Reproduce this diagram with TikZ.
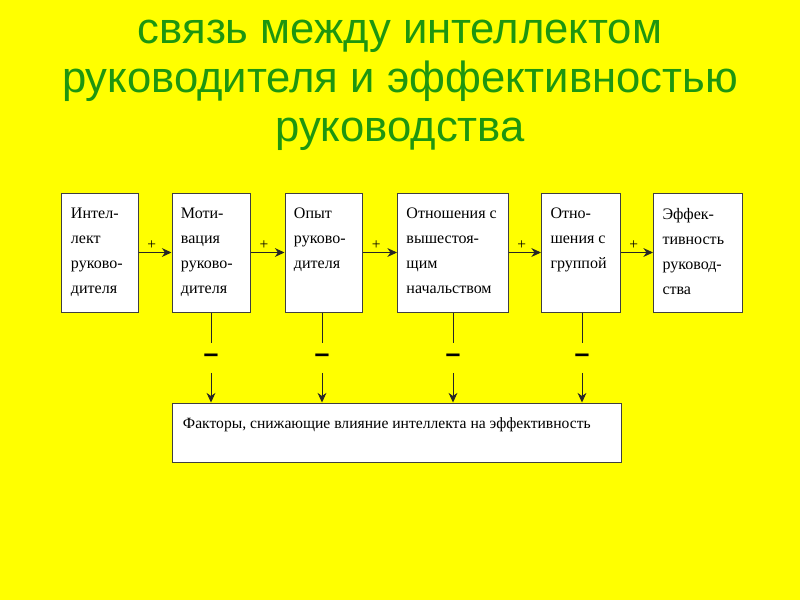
\documentclass[tikz,border=0pt]{standalone}
\usepackage{fontspec}
\setmainfont{Liberation Serif}
\newfontfamily\titlefont{Liberation Sans}
\usepackage{tikz}
\usetikzlibrary{arrows.meta}
\definecolor{titlegreen}{RGB}{30,150,15}
\definecolor{slideyellow}{RGB}{255,255,0}
% text block sitting at the top of a box
\newcommand{\boxtext}[3]{\parbox[c][#2][t]{#1}{\vspace{0.375cm}\raggedright #3}}

\begin{document}
\begin{tikzpicture}[x=0.025cm, y=-0.025cm, >={Stealth[length=2.4mm,width=2.2mm]},
    stage/.style={draw=black!75, fill=white, line width=0.7pt, inner sep=0pt,
        minimum height=2.975cm, font=\fontsize{11.4}{17.8}\selectfont},
    link/.style={draw=black!85, line width=0.6pt},
    plus/.style={above=1pt, pos=0.4, inner sep=1pt, font=\fontsize{11}{12}\selectfont},
    minus/.style={inner sep=0pt, minimum height=0.725cm,
        font=\titlefont\bfseries\fontsize{19}{20}\selectfont},
    title/.style={align=center, text=titlegreen,
        font=\titlefont\fontsize{31}{34.9}\selectfont}]
        % Background of the slide
        \fill[slideyellow] (0,0) rectangle (800,600);

        % Heading
        \node[title] (head) at (400,85) {связь между интеллектом\\руководителя и эффективностью\\руководства};

        % Chain of stages
        \node[stage, minimum width=1.9cm] (b1) at (100,252.5) {\boxtext{1.45cm}{2.975cm}{Интел-\\лект\\руково-\\дителя}};
        \node[stage, minimum width=1.95cm] (b2) at (211,252.5) {\boxtext{1.5cm}{2.975cm}{Моти-\\вация\\руково-\\дителя}};
        \node[stage, minimum width=1.925cm] (b3) at (323.5,252.5) {\boxtext{1.475cm}{2.975cm}{Опыт\\руково-\\дителя}};
        \node[stage, minimum width=2.775cm] (b4) at (453,252.5) {\boxtext{2.325cm}{2.975cm}{Отношения с\\вышестоя-\\щим\\начальством}};
        \node[stage, minimum width=1.975cm] (b5) at (581,252.5) {\boxtext{1.525cm}{2.975cm}{Отно-\\шения с\\группой}};
        \node[stage, minimum width=2.225cm] (b6) at (698,252.5) {\boxtext{1.775cm}{2.975cm}{Эффек-\\тивность\\руковод-\\ства}};

        % Factors box
        \node[stage, minimum width=11.2cm, minimum height=1.475cm, font=\fontsize{11.1}{17.8}\selectfont] (f) at (397,432.5)
            {\boxtext{10.7cm}{1.475cm}{Факторы, снижающие влияние интеллекта на эффективность}};

        % Positive links
        \draw[link, ->] (b1.east) -- node[plus] {+} (b2.west);
        \draw[link, ->] (b2.east) -- node[plus] {+} (b3.west);
        \draw[link, ->] (b3.east) -- node[plus] {+} (b4.west);
        \draw[link, ->] (b4.east) -- node[plus] {+} (b5.west);
        \draw[link, ->] (b5.east) -- node[plus] {+} (b6.west);

        % Negative links
        \node[minus] (m1) at (211,358) {–};
        \node[minus] (m2) at (322,358) {–};
        \node[minus] (m3) at (453,358) {–};
        \node[minus] (m4) at (582,358) {–};
        \draw[link] (b2.south -| m1) -- (m1.north);
        \draw[link] (b3.south -| m2) -- (m2.north);
        \draw[link] (b4.south -| m3) -- (m3.north);
        \draw[link] (b5.south -| m4) -- (m4.north);
        \draw[link, ->] (m1.south) -- (f.north -| m1);
        \draw[link, ->] (m2.south) -- (f.north -| m2);
        \draw[link, ->] (m3.south) -- (f.north -| m3);
        \draw[link, ->] (m4.south) -- (f.north -| m4);
    \end{tikzpicture}
\end{document}
